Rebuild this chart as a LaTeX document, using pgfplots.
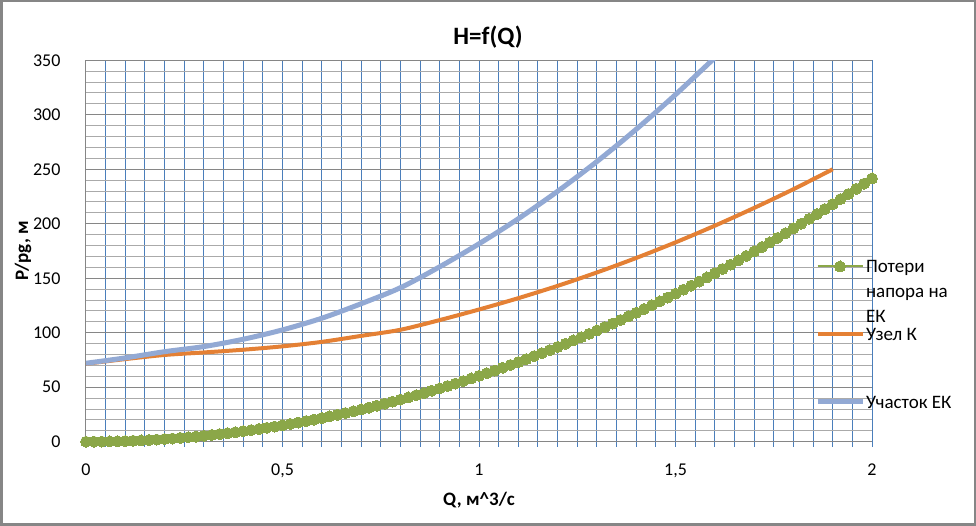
\documentclass[border=0pt]{standalone}
\usepackage{fontspec}
\setmainfont{Carlito}
\usepackage{pgfplots}
\pgfplotsset{compat=1.18}
\definecolor{gridblue}{RGB}{74,126,187}
\definecolor{gmaj}{RGB}{134,134,134}
\definecolor{gmin}{RGB}{170,170,170}
\definecolor{potgreen}{RGB}{139,167,72}
\definecolor{uzorange}{RGB}{228,128,52}
\definecolor{uchblue}{RGB}{146,169,212}
\begin{document}
\begin{tikzpicture}
\useasboundingbox (0pt,0pt) rectangle (976pt,526pt);
\fill[white] (0pt,0pt) rectangle (976pt,526pt);
\draw[line width=2.5pt, gmaj] (1.25pt,1.25pt) rectangle (974.75pt,524.75pt);
\node[font=\fontsize{25}{30}\selectfont\bfseries] at (488pt,489pt) {H=f(Q)};
\begin{axis}[
  at={(86pt,84.3pt)}, anchor=south west,
  scale only axis, width=786pt, height=381.4pt,
  xmin=0, xmax=2, ymin=0, ymax=350,
  axis x line=bottom, axis y line=left,
  axis line style={-, draw=gmaj, line width=1pt},
  xtick={0,0.5,1,1.5,2}, minor x tick num=9,
  ytick={0,50,...,350}, minor y tick num=4,
  grid=both,
  major x grid style={gridblue, line width=1pt},
  minor x grid style={gridblue, line width=1pt},
  major y grid style={gmaj, line width=1pt},
  minor y grid style={gmin, line width=1pt},
  tick align=outside,
  major tick length=5pt, minor tick length=5pt,
  major x tick style={gridblue, line width=1pt},
  minor x tick style={gridblue, line width=1pt},
  major y tick style={draw=none},
  minor y tick style={draw=none},
  /pgf/number format/assume math mode=true,
  /pgf/number format/use comma,
  /pgf/number format/1000 sep={},
  ticklabel style={font=\fontsize{18}{20}\selectfont, black},
  xticklabel style={yshift=-14pt},
  yticklabel style={xshift=-17pt},
  xlabel={Q, м\textasciicircum 3/с},
  ylabel={P/pg, м},
  xlabel style={font=\fontsize{19}{22}\selectfont\bfseries, at={(axis description cs:0.5,-0.153)}, anchor=center},
  ylabel style={font=\fontsize{19}{22}\selectfont\bfseries, at={(axis description cs:-0.080,0.5)}, anchor=center},
  clip mode=individual,
  legend image code/.code={%
    \path[draw=none, fill=none] (0pt,-5pt) (45pt,5pt);
    \draw[mark repeat=2,mark phase=2,#1] plot coordinates {(0pt,0pt) (22.5pt,0pt) (45pt,0pt)};},
  legend style={at={(axis description cs:0.92748,0.47378)}, anchor=north west,
    draw=none, fill=none, inner xsep=0pt, inner ysep=0pt, outer sep=0pt,
    row sep=57.5pt, column sep=1pt,
    font=\fontsize{19}{25}\selectfont,
    nodes={inner sep=0pt, text height=0pt, text depth=0pt},
    cells={anchor=west}},
]
\addplot[potgreen, line width=2pt, mark=*, mark size=5.5pt, mark options={fill=potgreen, draw=potgreen, line width=0pt}] coordinates {
(0,0) (0.02,0.024) (0.04,0.097) (0.06,0.217) (0.08,0.387) (0.10,0.604) (0.12,0.870) (0.14,1.184) (0.16,1.546) (0.18,1.957)
(0.20,2.416) (0.22,2.923) (0.24,3.479) (0.26,4.083) (0.28,4.735) (0.30,5.436) (0.32,6.185) (0.34,6.982) (0.36,7.828) (0.38,8.722)
(0.40,9.664) (0.42,10.655) (0.44,11.694) (0.46,12.781) (0.48,13.916) (0.50,15.100) (0.52,16.332) (0.54,17.613) (0.56,18.942) (0.58,20.319)
(0.60,21.744) (0.62,23.218) (0.64,24.740) (0.66,26.310) (0.68,27.929) (0.70,29.596) (0.72,31.311) (0.74,33.075) (0.76,34.887) (0.78,36.747)
(0.80,38.656) (0.82,40.613) (0.84,42.618) (0.86,44.672) (0.88,46.774) (0.90,48.924) (0.92,51.123) (0.94,53.370) (0.96,55.665) (0.98,58.009)
(1.00,60.400) (1.02,62.840) (1.04,65.329) (1.06,67.866) (1.08,70.451) (1.10,73.084) (1.12,75.766) (1.14,78.496) (1.16,81.274) (1.18,84.101)
(1.20,86.976) (1.22,89.899) (1.24,92.871) (1.26,95.891) (1.28,98.959) (1.30,102.076) (1.32,105.241) (1.34,108.454) (1.36,111.716) (1.38,115.026)
(1.40,118.384) (1.42,121.791) (1.44,125.246) (1.46,128.749) (1.48,132.301) (1.50,135.900) (1.52,139.548) (1.54,143.245) (1.56,146.990) (1.58,150.783)
(1.60,154.624) (1.62,158.514) (1.64,162.452) (1.66,166.438) (1.68,170.473) (1.70,174.556) (1.72,178.687) (1.74,182.867) (1.76,187.095) (1.78,191.371)
(1.80,195.696) (1.82,200.069) (1.84,204.490) (1.86,208.960) (1.88,213.478) (1.90,218.044) (1.92,222.659) (1.94,227.322) (1.96,232.033) (1.98,236.792)
(2.00,241.600)};
\addlegendentry{\raisebox{-6.5pt}[0pt][0pt]{\parbox[t]{4cm}{\baselineskip=25pt Потери\\напора на\\ЕК}}}
\addplot[uzorange, line width=4pt, smooth, no marks] coordinates {
(0,71.5) (0.1,75.8) (0.2,79.6) (0.3,81.9) (0.4,84.4) (0.5,87.5) (0.6,91.6) (0.7,97.1) (0.8,102.7) (0.9,111.6)
(1.0,121.3) (1.1,131.7) (1.2,143) (1.3,155.3) (1.4,168.6) (1.5,182.9) (1.6,198.2) (1.7,214.5) (1.8,231.7) (1.9,250)};
\addlegendentry{\raisebox{-6.5pt}[0pt][0pt]{Узел К}}
\addplot[uchblue, line width=5pt, smooth, no marks] coordinates {
(0,72) (0.1,76.9) (0.2,82.6) (0.3,87.3) (0.4,94) (0.5,102.6) (0.6,113.3) (0.7,126.6) (0.8,141.3) (0.9,160.5)
(1.0,181.6) (1.1,204.6) (1.2,229.8) (1.3,257.1) (1.4,286.7) (1.5,318.5) (1.6,352.4)};
\addlegendentry{\raisebox{-6.5pt}[0pt][0pt]{Участок ЕК}}
\end{axis}
\end{tikzpicture}
\end{document}
